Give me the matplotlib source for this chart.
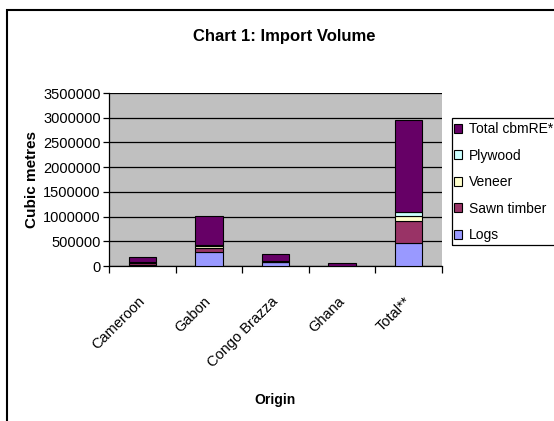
import matplotlib.pyplot as plt
from matplotlib.patches import Rectangle

plt.rcParams['font.family'] = ['Liberation Sans', 'DejaVu Sans']

origins = ['Cameroon', 'Gabon', 'Congo Brazza', 'Ghana', 'Total**']
logs = [15000, 290000, 85000, 0, 470000]
sawn_timber = [55000, 65000, 5000, 5000, 440000]
veneer = [3000, 45000, 2000, 3000, 95000]
plywood = [2000, 20000, 1000, 2000, 80000]
total_cbmre = [113000, 598000, 150000, 55000, 1870000]

series = [
    ('Logs', logs, '#9999FF'),
    ('Sawn timber', sawn_timber, '#993366'),
    ('Veneer', veneer, '#FFFFCC'),
    ('Plywood', plywood, '#CCFFFF'),
    ('Total cbmRE*', total_cbmre, '#660066'),
]

W, H = 554, 421
fig = plt.figure(figsize=(W / 100, H / 100), dpi=100)
ax = fig.add_axes([109 / W, 1 - 266 / H, 333 / W, 173 / H])
ax.set_facecolor('#C0C0C0')

x = list(range(len(origins)))
bottom = [0] * len(origins)
handles = []
for name, vals, color in series:
    b = ax.bar(x, vals, width=0.41, bottom=bottom, color=color,
               edgecolor='black', linewidth=0.8, label=name, zorder=3)
    handles.append(b)
    bottom = [p + q for p, q in zip(bottom, vals)]

ax.set_xlim(-0.5, len(origins) - 0.5)
ax.set_ylim(0, 3500000)
ax.set_yticks(range(0, 3500001, 500000))
ax.ticklabel_format(axis='y', style='plain', useOffset=False)
ax.yaxis.grid(True, color='black', linewidth=0.9, zorder=1)
ax.set_axisbelow(True)
for s in ('top', 'right'):
    ax.spines[s].set_visible(False)
ax.spines['left'].set_linewidth(0.9)
ax.spines['bottom'].set_linewidth(0.9)
ax.tick_params(axis='y', direction='out', length=4, width=0.9,
               labelsize=10.5, pad=2)

# category boundaries carry the tick marks, centres carry the labels
ax.set_xticks([i - 0.5 for i in range(len(origins) + 1)])
ax.set_xticklabels([])
ax.tick_params(axis='x', which='major', direction='out', length=5, width=0.9)
ax.set_xticks(x, minor=True)
ax.set_xticklabels(origins, minor=True, rotation=45, ha='right',
                   va='center', rotation_mode='anchor', fontsize=10.5)
ax.tick_params(axis='x', which='minor', length=0, pad=24)

fig.text(284 / W, 1 - 37 / H, 'Chart 1: Import Volume', ha='center',
         va='center', fontsize=12, fontweight='bold')
fig.text(32 / W, 1 - 180 / H, 'Cubic metres', rotation=90, ha='center',
         va='center', fontsize=11, fontweight='bold')
fig.text(275 / W, 1 - 400 / H, 'Origin', ha='center', va='center',
         fontsize=10, fontweight='bold')

leg = fig.legend(handles[::-1], [s[0] for s in series][::-1],
                 loc='upper left', bbox_to_anchor=(454 / W, 1 - 122 / H),
                 frameon=False, fontsize=10, borderpad=0, borderaxespad=0,
                 handlelength=0.6, handleheight=0.6, handletextpad=0.5,
                 labelspacing=0.9)

# legend box and chart border run off the right/bottom edges
fig.add_artist(Rectangle((452 / W, 1 - 245 / H), 120 / W, 127 / H,
                         transform=fig.transFigure, fill=False,
                         edgecolor='black', linewidth=0.9))
fig.add_artist(Rectangle((7 / W, -0.1), 1.2, 1 - 10 / H + 0.1,
                         transform=fig.transFigure, fill=False,
                         edgecolor='black', linewidth=1.5))

fig.savefig('out.png', dpi=100)
